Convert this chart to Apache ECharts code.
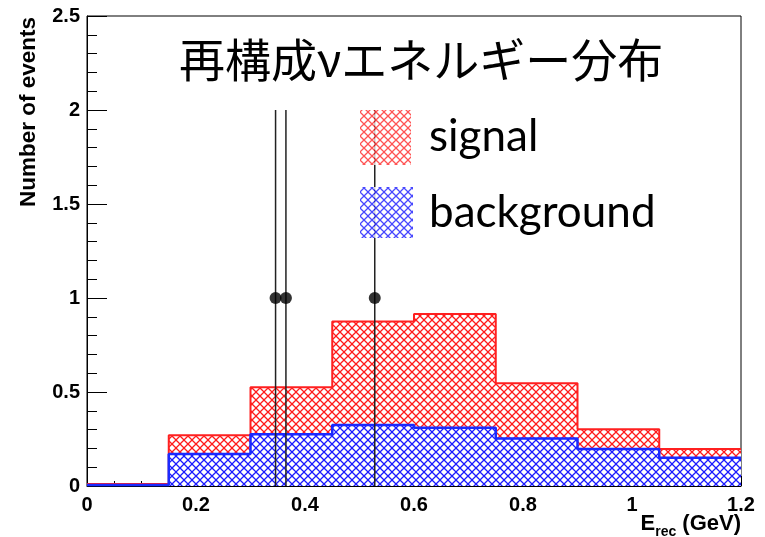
<!DOCTYPE html>
<html>
<head>
<meta charset="utf-8">
<script src="https://cdn.jsdelivr.net/npm/echarts@6/dist/echarts.min.js"></script>
<style>
html,body{margin:0;padding:0;background:#fff;}
#chart{width:765px;height:537px;}
</style>
</head>
<body>
<div id="chart"></div>
<script>
// ---- data ----
const binEdges = [0, 0.15, 0.3, 0.45, 0.6, 0.75, 0.9, 1.05, 1.2];
const totalValues = [0.01, 0.27, 0.525, 0.875, 0.915, 0.547, 0.302, 0.197]; // signal + background
const backgroundValues = [0.005, 0.17, 0.275, 0.325, 0.31, 0.253, 0.197, 0.15];
const dataX = [0.346, 0.365, 0.528];
const dataY = [1, 1, 1];
const errLow = [0, 0, 0];
const errHigh = [2, 2, 2];
const yTicks = [0, 0.5, 1, 1.5, 2, 2.5];
const xTicks = [0, 0.2, 0.4, 0.6, 0.8, 1, 1.2];
const titleText = '再構成νエネルギー分布';
const legendNames = ['signal', 'background'];

function hatch(color) {
  const c = document.createElement('canvas');
  c.width = 8; c.height = 8;
  const g = c.getContext('2d');
  g.fillStyle = '#fff';
  g.fillRect(0, 0, 8, 8);
  g.strokeStyle = color;
  g.lineWidth = 1.3;
  g.beginPath();
  g.moveTo(-1, -1); g.lineTo(9, 9);
  g.moveTo(9, -1); g.lineTo(-1, 9);
  g.stroke();
  return c;
}
const redPat = hatch('#ff1a1a');
const bluePat = hatch('#1a1aff');

function stepData(vals) {
  const d = vals.map((v, i) => [binEdges[i], v]);
  d.push([binEdges[binEdges.length - 1], vals[vals.length - 1]]);
  return d;
}

const chart = echarts.init(document.getElementById('chart'), null, {renderer: 'canvas'});
const lblFont = {fontFamily: 'Liberation Sans', fontWeight: 'bold', fontSize: 20, color: '#000'};

chart.setOption({
  animation: false,
  backgroundColor: '#fff',
  title: {
    text: titleText,
    left: 174, top: 32,
    textStyle: {fontFamily: 'Noto Sans CJK JP', fontWeight: 'normal', fontSize: 46, color: '#000'}
  },
  grid: {left: 87, right: 24, top: 16, bottom: 51, show: true, borderColor: '#000', borderWidth: 1, backgroundColor: 'transparent'},
  xAxis: {
    type: 'value', min: 0, max: 1.2, interval: 0.2,
    axisLine: {show: true, onZero: false, lineStyle: {color: '#000', width: 1}},
    axisTick: {show: true, inside: true, length: 10, lineStyle: {color: '#000'}},
    minorTick: {show: true, splitNumber: 4, length: 5, lineStyle: {color: '#000'}},
    splitLine: {show: false},
    axisLabel: Object.assign({margin: 9, formatter: v => (xTicks.indexOf(Math.round(v*10)/10) >= 0 ? String(Math.round(v*10)/10) : '')}, lblFont)
  },
  yAxis: {
    type: 'value', min: 0, max: 2.5, interval: 0.5,
    axisLine: {show: true, lineStyle: {color: '#000', width: 1}},
    axisTick: {show: true, inside: true, length: 20, lineStyle: {color: '#000'}},
    minorTick: {show: true, splitNumber: 5, length: 10, lineStyle: {color: '#000'}},
    splitLine: {show: false},
    axisLabel: Object.assign({margin: 7, formatter: v => (yTicks.indexOf(v) >= 0 ? String(v) : '')}, lblFont)
  },
  series: [
    {
      name: 'signal', type: 'line', step: 'end', data: stepData(totalValues),
      symbol: 'none', z: 2,
      lineStyle: {color: '#ff2020', width: 2},
      areaStyle: {color: {image: redPat, repeat: 'repeat'}, opacity: 1}
    },
    {
      name: 'background', type: 'line', step: 'end', data: stepData(backgroundValues),
      symbol: 'none', z: 3,
      lineStyle: {color: '#1a2aff', width: 2.5},
      areaStyle: {color: {image: bluePat, repeat: 'repeat'}, opacity: 1}
    },
    {
      name: 'errors', type: 'custom', z: 5,
      data: dataX.map((x, i) => [x, errLow[i], errHigh[i]]),
      renderItem: function (params, api) {
        const p1 = api.coord([api.value(0), api.value(1)]);
        const p2 = api.coord([api.value(0), api.value(2)]);
        return {type: 'line', shape: {x1: p1[0], y1: p1[1], x2: p2[0], y2: p2[1]},
                style: {stroke: '#222', lineWidth: 1.5}};
      }
    },
    {
      name: 'data', type: 'scatter', z: 6,
      data: dataX.map((x, i) => [x, dataY[i]]),
      symbol: 'circle', symbolSize: 12,
      itemStyle: {color: '#000'}
    }
  ],
  graphic: [
    {type: 'rect', z: 100, shape: {x: 360, y: 110, width: 51, height: 55}, style: {fill: {image: redPat, repeat: 'repeat'}, opacity: 0.75}},
    {type: 'rect', z: 100, shape: {x: 360, y: 187, width: 53, height: 51}, style: {fill: {image: bluePat, repeat: 'repeat'}, opacity: 0.8}},
    {type: 'text', z: 100, x: 429, y: 137, style: {text: legendNames[0], fontFamily: 'Lato', fontSize: 44, fill: '#000', textVerticalAlign: 'middle'}},
    {type: 'text', z: 100, x: 429, y: 213, style: {text: legendNames[1], fontFamily: 'Lato', fontSize: 44, fill: '#000', textVerticalAlign: 'middle'}},
    {type: 'text', z: 100, x: 29, y: 17, rotation: Math.PI / 2,
     style: {text: 'Number of events', fontFamily: 'Liberation Sans', fontWeight: 'bold', fontSize: 22.5, fill: '#000', textAlign: 'right', textVerticalAlign: 'middle'}},
    {type: 'text', z: 100, x: 741, y: 523,
     style: {text: '{e|E}{s|rec}{e| (GeV)}', textAlign: 'right', textVerticalAlign: 'middle',
       rich: {e: {fontFamily: 'Liberation Sans', fontWeight: 'bold', fontSize: 22, fill: '#000', verticalAlign: 'bottom', lineHeight: 24},
              s: {fontFamily: 'Liberation Sans', fontWeight: 'bold', fontSize: 14, fill: '#000', verticalAlign: 'bottom', lineHeight: 18, padding: [0, 0, -4, 0]}}}}
  ]
});
</script>
</body>
</html>
